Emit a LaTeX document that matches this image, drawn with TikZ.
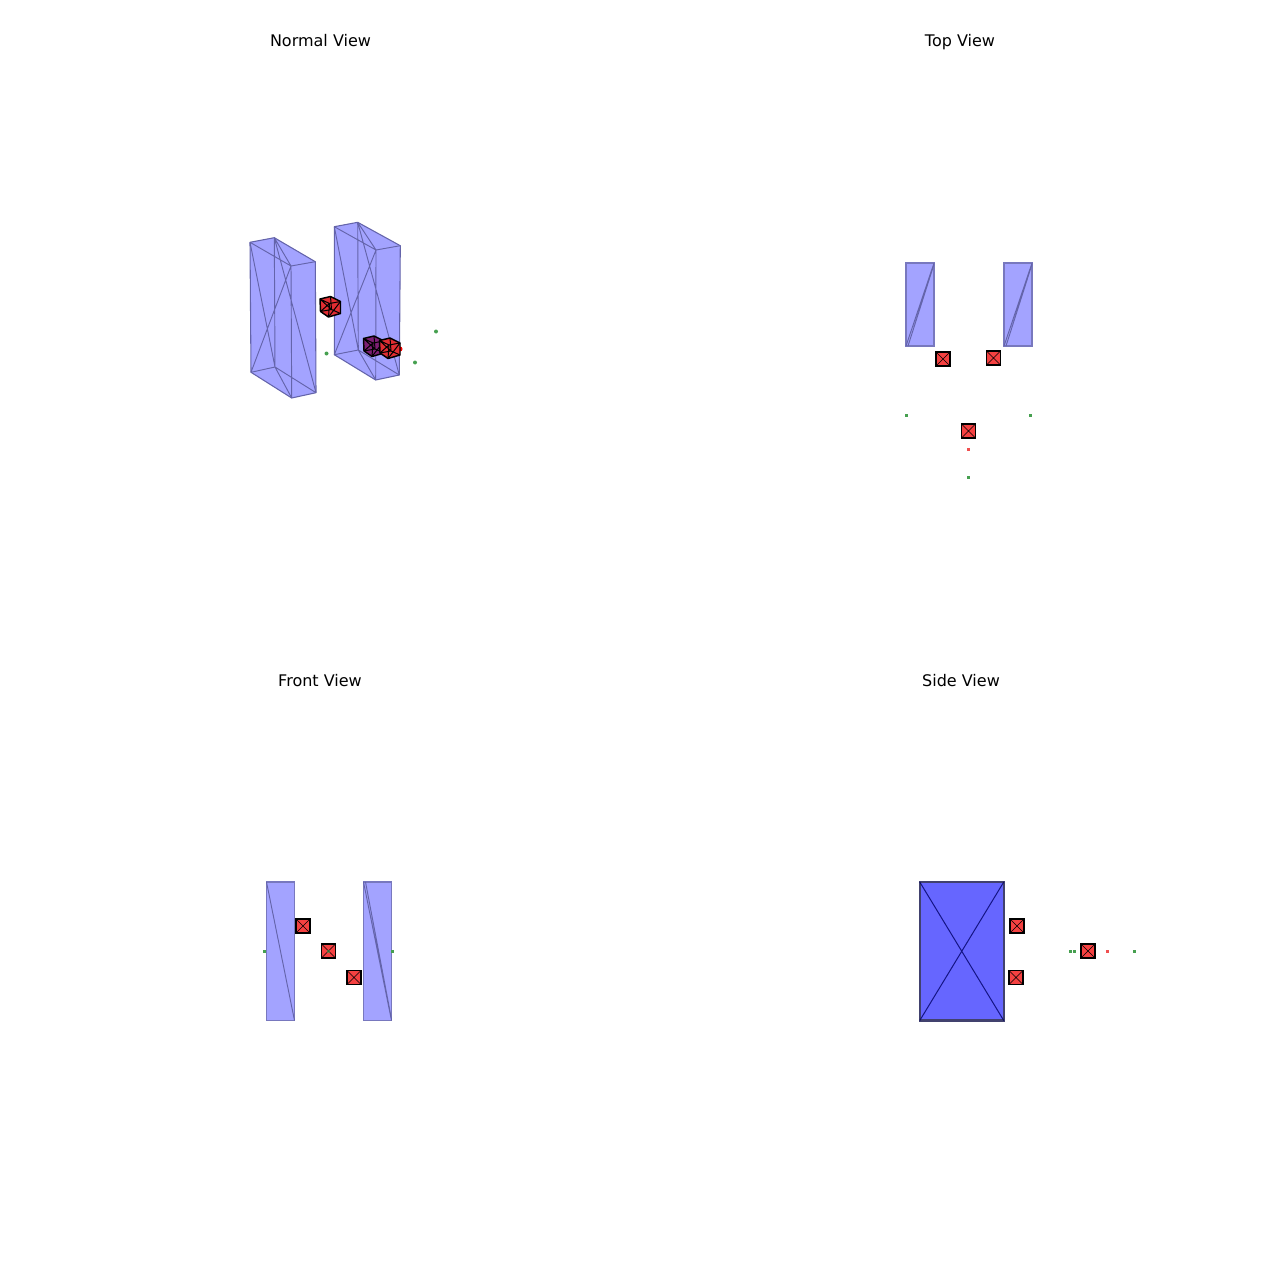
\documentclass[tikz,border=0pt]{standalone}
\usepackage{fontspec}
\setmainfont{DejaVu Sans}
\usepackage{tikz}

\definecolor{slab}{RGB}{163,163,255}
\definecolor{slabdark}{RGB}{102,102,255}
\definecolor{slabline}{RGB}{100,100,170}
\definecolor{slabedge}{RGB}{120,120,190}
\definecolor{cubered}{RGB}{245,65,65}
\definecolor{cubefill}{RGB}{225,45,50}
\definecolor{cubeback}{RGB}{125,30,115}
\definecolor{dotgreen}{RGB}{70,160,80}
\definecolor{dotred}{RGB}{240,80,80}

% one small cube of the normal view
\newcommand{\smallcube}[3]{
\begin{scope}[shift={(#1,#2)}]
\fill[#3] (-10.5,-7.5) -- (0,-10) -- (10,-5) -- (10,7) -- (-2,10.5) -- (-10,5) -- cycle;
\draw[line width=1.1pt,line join=round] (-10.5,-7.5) -- (0,-10) -- (10,-5) -- (10,7) -- (-2,10.5) -- (-10,5) -- cycle;
\draw[line width=0.75pt] (-10.5,-7.5) -- (-1,-3) -- (10,-5) (-1,-3) -- (-2,10.5) (0,-10) -- (1,3) (-10,5) -- (1,3) -- (10,7) (-10,5) -- (-1,-3) (-2,10.5) -- (10,-5) (-10.5,-7.5) -- (1,3);
\end{scope}
}

\begin{document}
\begin{tikzpicture}[x=0.75pt,y=-0.75pt]

\tikzstyle{title}=[font=\fontsize{12}{14}\selectfont,inner sep=0pt,anchor=base]
\tikzstyle{slabbox}=[fill=slab,draw=slabline,line width=0.8pt,line join=round]
\tikzstyle{flatbox}=[rectangle,fill=slab,draw=slabedge,line width=1.4pt,minimum width=21pt,inner sep=0pt,outer sep=0pt]
\tikzstyle{slabwire}=[draw=slabline,line width=0.7pt]
\tikzstyle{marker}=[rectangle,draw=black,fill=cubered,line width=1.3pt,minimum size=10.5pt,inner sep=0pt,outer sep=0pt]
\tikzstyle{greendot}=[rectangle,fill=dotgreen,minimum size=2.25pt,inner sep=0pt,outer sep=0pt]
\tikzstyle{reddot}=[rectangle,fill=dotred,minimum size=2.25pt,inner sep=0pt,outer sep=0pt]

\useasboundingbox (0,0) rectangle (1280,1280);

\node[title] (normal) at (320.5,47) {Normal View} ;
\node[title] (top)    at (960,47)   {Top View} ;
\node[title] (front)  at (320,686)  {Front View} ;
\node[title] (side)   at (961,686)  {Side View} ;

% normal view, left slab
\coordinate (a1) at (250,242.3) ;
\coordinate (b1) at (274.3,237.7) ;
\coordinate (c1) at (315.3,261.7) ;
\coordinate (d1) at (291,266) ;
\coordinate (e1) at (251,372.3) ;
\coordinate (f1) at (275,367) ;
\coordinate (g1) at (316,392.7) ;
\coordinate (h1) at (291.7,398) ;
\draw[slabbox] (a1) -- (b1) -- (c1) -- (g1) -- (h1) -- (e1) -- cycle;
\draw[slabwire] (a1) -- (d1) -- (c1) (d1) -- (h1) (b1) -- (f1) (e1) -- (f1) -- (g1)
  (e1) -- (d1) (a1) -- (f1) (b1) -- (g1) (b1) -- (d1) (f1) -- (h1);

% normal view, right slab
\coordinate (a2) at (334.3,226.7) ;
\coordinate (b2) at (357.7,222.3) ;
\coordinate (c2) at (400.3,245.7) ;
\coordinate (d2) at (376,250) ;
\coordinate (e2) at (334.3,354.7) ;
\coordinate (f2) at (358.3,350) ;
\coordinate (g2) at (399.3,375) ;
\coordinate (h2) at (375.7,380) ;
\draw[slabbox] (a2) -- (b2) -- (c2) -- (g2) -- (h2) -- (e2) -- cycle;
\draw[slabwire] (a2) -- (d2) -- (c2) (d2) -- (h2) (b2) -- (f2) (e2) -- (f2) -- (g2)
  (e2) -- (d2) (a2) -- (f2) (b2) -- (g2) (b2) -- (d2) (f2) -- (h2);

\smallcube{330.5}{306.5}{cubefill}
\smallcube{374}{346}{cubeback}
\fill[red] (400,349) circle (2.5);
\smallcube{390}{348}{cubefill}

\node[greendot,circle,minimum size=3pt] (n1) at (326.5,353.5) {} ;
\node[greendot,circle,minimum size=3pt] (n2) at (415,362.5) {} ;
\node[greendot,circle,minimum size=3pt] (n3) at (436,331.5) {} ;

% top view
\node[flatbox,minimum height=62.25pt] (t1) at (920,304.5) {} ;
\node[flatbox,minimum height=62.25pt] (t2) at (1018,304.5) {} ;
\draw[slabwire] (t1.south west) -- (t1.north east) ([xshift=1.5pt]t1.south west) -- ([yshift=-1pt]t1.north east) ;
\draw[slabwire] (t2.south west) -- (t2.north east) ([xshift=1.5pt]t2.south west) -- ([yshift=-1pt]t2.north east) ;
\node[marker] (tm1) at (943,359)    {} ;
\node[marker] (tm2) at (993.5,358)  {} ;
\node[marker] (tm3) at (968.5,431)  {} ;
\draw (tm1.north west) -- (tm1.south east) (tm1.north east) -- (tm1.south west) ;
\draw (tm2.north west) -- (tm2.south east) (tm2.north east) -- (tm2.south west) ;
\draw (tm3.north west) -- (tm3.south east) (tm3.north east) -- (tm3.south west) ;
\node[greendot] (tg1) at (906.5,415) {} ;
\node[greendot] (tg2) at (1030.5,415) {} ;
\node[greendot] (tg3) at (968.5,477.5) {} ;
\node[reddot]   (tr1) at (968.5,449.5) {} ;

% front view
\node[flatbox,minimum height=103.9pt] (f1box) at (280.5,951.25) {} ;
\node[flatbox,minimum height=103.9pt] (f2box) at (377.5,951.25) {} ;
\draw[slabwire] (f1box.north west) -- (f1box.south east) ;
\draw[slabwire] (f2box.north west) -- (f2box.south east) ([xshift=1.5pt]f2box.north west) -- ([yshift=1pt]f2box.south east) ;
\node[greendot] (fg1) at (264.5,951) {} ;
\node[greendot] (fg2) at (392.5,951) {} ;
\node[marker] (fm1) at (303,926)    {} ;
\node[marker] (fm2) at (328.5,951)  {} ;
\node[marker] (fm3) at (354,977.5)  {} ;
\draw (fm1.north west) -- (fm1.south east) (fm1.north east) -- (fm1.south west) ;
\draw (fm2.north west) -- (fm2.south east) (fm2.north east) -- (fm2.south west) ;
\draw (fm3.north west) -- (fm3.south east) (fm3.north east) -- (fm3.south west) ;
\node[greendot,opacity=0.6] (fg3) at (328.5,951) {} ;

% side view
\node[rectangle,fill=slabdark,draw=slabline!65!black,line width=1.8pt,minimum width=63pt,minimum height=103.9pt,inner sep=0pt,outer sep=0pt] (s1) at (961.75,951.25) {} ;
\draw[draw=blue!40!black,draw opacity=0.8,line width=0.75pt] (s1.north west) -- (s1.south east) (s1.north east) -- (s1.south west) ;
\node[marker] (sm1) at (1017,926)    {} ;
\node[marker] (sm2) at (1016,977.5)  {} ;
\node[marker] (sm3) at (1088,951)    {} ;
\draw (sm1.north west) -- (sm1.south east) (sm1.north east) -- (sm1.south west) ;
\draw (sm2.north west) -- (sm2.south east) (sm2.north east) -- (sm2.south west) ;
\draw (sm3.north west) -- (sm3.south east) (sm3.north east) -- (sm3.south west) ;
\node[greendot] (sg1) at (1070.5,951) {} ;
\node[greendot] (sg2) at (1074.5,951) {} ;
\node[greendot] (sg3) at (1134.5,951) {} ;
\node[reddot]   (sr1) at (1107,951) {} ;

\end{tikzpicture}
\end{document}
